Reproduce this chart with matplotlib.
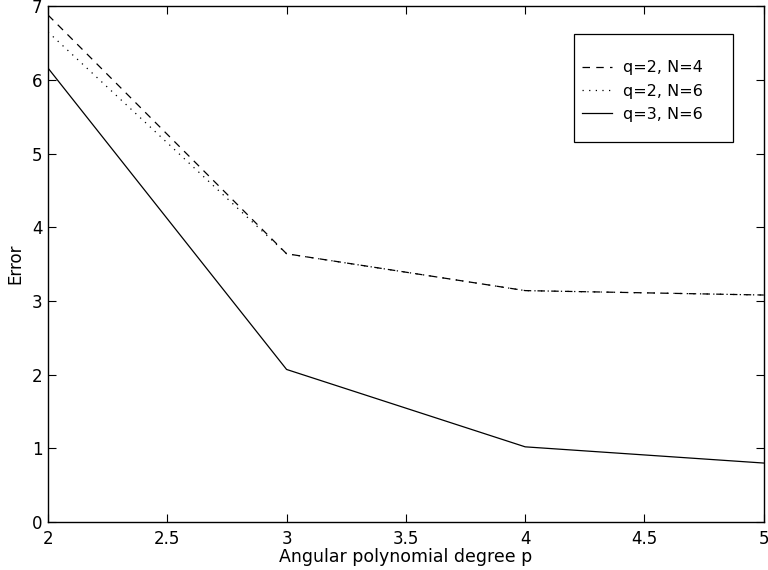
import matplotlib
matplotlib.use("Agg")
import matplotlib.pyplot as plt
from matplotlib.patches import Rectangle

plt.rcParams['font.family'] = ['DejaVu Sans']

p = [2, 3, 4, 5]
err_q2_N4 = [6.88, 3.64, 3.14, 3.08]
err_q2_N6 = [6.65, 3.64, 3.14, 3.08]
err_q3_N6 = [6.16, 2.07, 1.02, 0.80]
labels = ['q=2, N=4', 'q=2, N=6', 'q=3, N=6']

fig = plt.figure(figsize=(7.68, 5.70), dpi=100)
ax = fig.add_axes([0.0625, 0.0842, 0.932, 0.905])

ax.plot(p, err_q2_N4, color='black', lw=0.9, linestyle=(0, (6, 5)), label=labels[0])
ax.plot(p, err_q2_N6, color='black', lw=0.9, linestyle=(0, (1, 4.3)), label=labels[1])
ax.plot(p, err_q3_N6, color='black', lw=0.9, linestyle='-', label=labels[2])

ax.set_xlim(2, 5)
ax.set_ylim(0, 7)
ax.set_xticks([2, 2.5, 3, 3.5, 4, 4.5, 5])
ax.set_xticklabels(['2', '2.5', '3', '3.5', '4', '4.5', '5'])
ax.set_yticks(range(0, 8))
ax.tick_params(direction='in', top=True, right=True, labelsize=12, length=6, width=0.8)
ax.tick_params(axis='x', pad=6)
ax.tick_params(axis='y', pad=4)
for s in ax.spines.values():
    s.set_linewidth(1.0)
ax.set_xlabel('Angular polynomial degree p', fontsize=12.5, labelpad=0)
ax.set_ylabel('Error', fontsize=12, labelpad=5)

# legend box (MATLAB-style, asymmetric padding)
ax.add_patch(Rectangle((0.7346, 0.7364), 0.2221, 0.2093, transform=ax.transAxes,
                       facecolor='white', edgecolor='black', lw=0.9, zorder=4))
leg = ax.legend(loc='center left', bbox_to_anchor=(0.7458, 0.8353), borderaxespad=0,
                borderpad=0, fontsize=11.5, frameon=False,
                handlelength=1.9, handletextpad=0.7, labelspacing=0.53)
leg.set_zorder(5)

fig.savefig('out.png', dpi=100)
